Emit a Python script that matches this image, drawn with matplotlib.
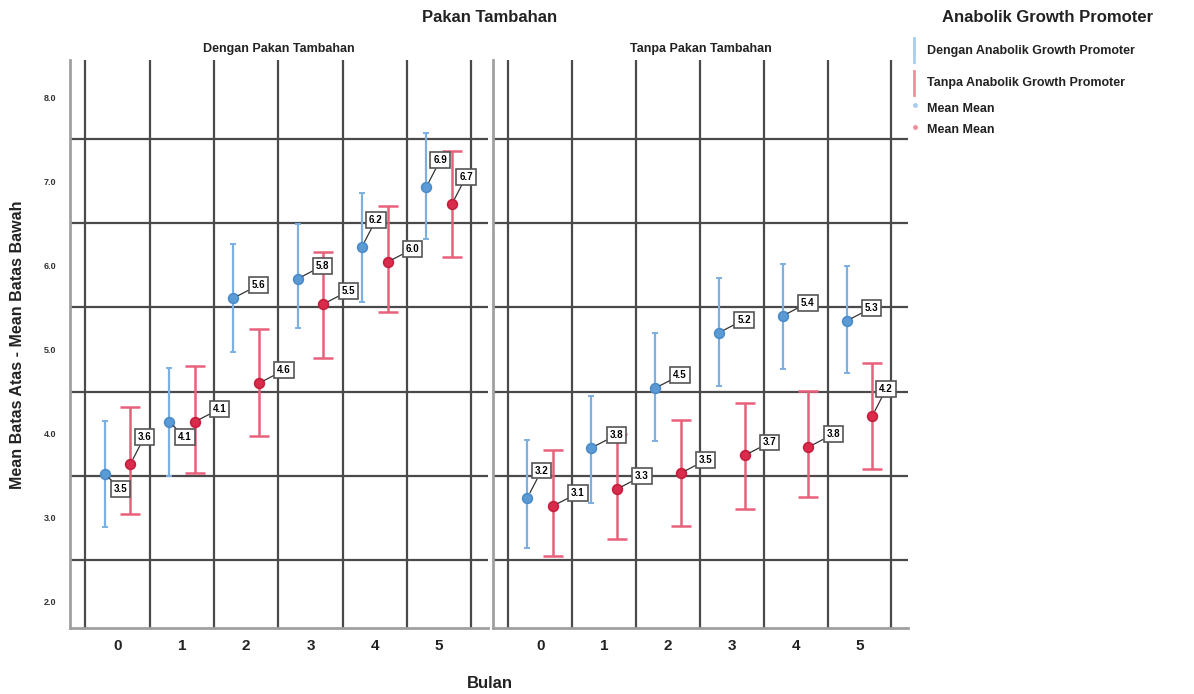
import numpy as np
import matplotlib
matplotlib.use("Agg")
import matplotlib.pyplot as plt
from matplotlib.lines import Line2D

plt.rcParams['font.family'] = ['Liberation Sans', 'DejaVu Sans']

# data
bulan = [0, 1, 2, 3, 4, 5]
panels = ["Dengan Pakan Tambahan", "Tanpa Pakan Tambahan"]

# Dengan Pakan Tambahan
dp_blue_mean = [3.52, 4.14, 5.61, 5.84, 6.22, 6.93]
dp_blue_lo = [2.89, 3.50, 4.97, 5.26, 5.57, 6.31]
dp_blue_hi = [4.15, 4.78, 6.25, 6.49, 6.86, 7.57]
dp_red_mean = [3.64, 4.14, 4.60, 5.54, 6.04, 6.73]
dp_red_lo = [3.05, 3.53, 3.97, 4.90, 5.45, 6.10]
dp_red_hi = [4.32, 4.80, 5.24, 6.16, 6.70, 7.36]

# Tanpa Pakan Tambahan
tp_blue_mean = [3.24, 3.83, 4.54, 5.20, 5.40, 5.34]
tp_blue_lo = [2.64, 3.18, 3.91, 4.56, 4.77, 4.72]
tp_blue_hi = [3.92, 4.45, 5.19, 5.85, 6.02, 5.99]
tp_red_mean = [3.14, 3.34, 3.53, 3.74, 3.84, 4.21]
tp_red_lo = [2.55, 2.75, 2.90, 3.10, 3.25, 3.58]
tp_red_hi = [3.80, 3.99, 4.16, 4.36, 4.51, 4.84]

series = [
    (dp_blue_mean, dp_blue_lo, dp_blue_hi, dp_red_mean, dp_red_lo, dp_red_hi),
    (tp_blue_mean, tp_blue_lo, tp_blue_hi, tp_red_mean, tp_red_lo, tp_red_hi),
]

# label offsets in pixels (dx, dy)
U = (25, 13)
H = (14, 27)
D = (16, -15)
label_offsets = [
    ([D, D, U, U, H, H], [H, U, U, U, U, H]),
    ([H, U, U, U, U, U], [U, U, U, U, U, H]),
]

BLUE = '#5b9bd5'
BLUE_BAR = '#7ab0e2'
RED = '#d92b4b'
RED_BAR = '#e8607a'
GRID = '#4a4a4a'

fig = plt.figure(figsize=(11.94, 6.94), dpi=100)
W, Hh = 1194, 694
positions = [(70, 488), (493, 908)]
top, bottom = 60, 628

def draw_labels(ax, xs, means, offsets):
    for x, m, off in zip(xs, means, offsets):
        ax.annotate(f"{m:.1f}", xy=(x, m), xytext=off, textcoords='offset pixels',
                    ha='center', va='center', fontsize=7, fontweight='bold',
                    bbox=dict(boxstyle='square,pad=0.3', fc='white', ec='#555555', lw=1.2),
                    arrowprops=dict(arrowstyle='-', color='#333333', lw=0.9, shrinkA=0, shrinkB=4),
                    zorder=6)

for i, (x0, x1) in enumerate(positions):
    ax = fig.add_axes([x0 / W, 1 - bottom / Hh, (x1 - x0) / W, (bottom - top) / Hh])
    bm, bl, bh, rm, rl, rh = series[i]
    x = np.array(bulan, dtype=float)
    xb = x - 0.2
    xr = x + 0.2

    ax.set_xlim(-0.74, 5.76)
    ax.set_ylim(1.69, 8.44)

    for g in np.arange(-0.5, 6.0, 1.0):
        ax.axvline(g, color=GRID, lw=1.6, zorder=1)
    for g in np.arange(2.5, 8.0, 1.0):
        ax.axhline(g, color=GRID, lw=1.6, zorder=1)

    bm_a, rm_a = np.array(bm), np.array(rm)
    ax.errorbar(xb, bm_a, yerr=[bm_a - np.array(bl), np.array(bh) - bm_a], fmt='none',
                ecolor=BLUE_BAR, elinewidth=1.6, capsize=2, capthick=1.4, zorder=3)
    ax.errorbar(xr, rm_a, yerr=[rm_a - np.array(rl), np.array(rh) - rm_a], fmt='none',
                ecolor=RED_BAR, elinewidth=1.8, capsize=7, capthick=1.8, zorder=3)
    ax.plot(xb, bm_a, 'o', ms=7, mfc=BLUE, mec='#4a8cca', mew=1.2, zorder=4, ls='none')
    ax.plot(xr, rm_a, 'o', ms=7, mfc=RED, mec='#c81e3e', mew=1.2, zorder=4, ls='none')

    draw_labels(ax, xb, bm, label_offsets[i][0])
    draw_labels(ax, xr, rm, label_offsets[i][1])

    ax.set_xticks(bulan)
    ax.set_xticklabels([str(b) for b in bulan], fontsize=11, fontweight='bold', color='#222222')
    ax.tick_params(axis='x', length=0, pad=8)
    if i == 0:
        ax.set_yticks([2, 3, 4, 5, 6, 7, 8])
        ax.set_yticklabels([f"{v:.1f}" for v in [2, 3, 4, 5, 6, 7, 8]], fontsize=6.5,
                           fontweight='bold', color='#333333')
        ax.tick_params(axis='y', length=0, pad=10)
    else:
        ax.set_yticks([])
    for s in ['top', 'right']:
        ax.spines[s].set_visible(False)
    for s in ['left', 'bottom']:
        ax.spines[s].set_color('#a0a0a0')
        ax.spines[s].set_linewidth(2)
    ax.set_title(panels[i], fontsize=9, fontweight='bold', pad=6, color='#222222')

fig.text(490 / W, 1 - 17 / Hh, "Pakan Tambahan", ha='center', va='center', fontsize=12,
         fontweight='bold', color='#222222')
fig.text(490 / W, 1 - 683 / Hh, "Bulan", ha='center', va='center', fontsize=12,
         fontweight='bold', color='#222222')
fig.text(18 / W, 1 - 345 / Hh, "Mean Batas Atas - Mean Batas Bawah", ha='center', va='center',
         rotation=90, fontsize=11.5, fontweight='bold', color='#222222')

# legend
fig.text(1048 / W, 1 - 17 / Hh, "Anabolik Growth Promoter", ha='center', va='center',
         fontsize=12, fontweight='bold', color='#222222')
fig.add_artist(Line2D([914 / W, 914 / W], [1 - 38 / Hh, 1 - 62 / Hh], color='#a9cdef', lw=2))
fig.add_artist(Line2D([914 / W, 914 / W], [1 - 71 / Hh, 1 - 95 / Hh], color='#f0909f', lw=2))
fig.add_artist(Line2D([915 / W], [1 - 105 / Hh], marker='o', ms=2.5, color='#a9cdef', ls='none'))
fig.add_artist(Line2D([915 / W], [1 - 127 / Hh], marker='o', ms=2.5, color='#f0909f', ls='none'))
legend_texts = ["Dengan Anabolik Growth Promoter", "Tanpa Anabolik Growth Promoter",
                "Mean Mean", "Mean Mean"]
for t, yy in zip(legend_texts, [51, 83, 109, 130]):
    fig.text(927 / W, 1 - yy / Hh, t, ha='left', va='center', fontsize=9, fontweight='bold',
             color='#222222')

fig.savefig("out.png", dpi=100)
